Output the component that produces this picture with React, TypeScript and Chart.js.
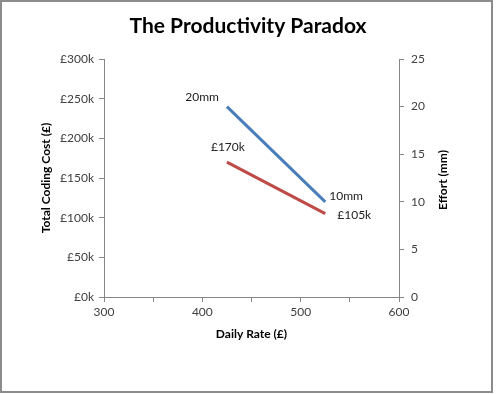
import React, { useEffect, useRef } from 'react';
import { Chart, registerables } from 'chart.js';
Chart.register(...registerables);

const chartTitle = 'The Productivity Paradox';
const xAxisTitle = 'Daily Rate (£)';
const yLeftTitle = 'Total Coding Cost (£)';
const yRightTitle = 'Effort (mm)';

const dailyRates = [425, 525];
const totalCodingCost = [170000, 105000];
const effortMm = [20, 10];
const costLabels = ['£170k', '£105k'];
const effortLabels = ['20mm', '10mm'];

const xMin = 300, xMax = 600, xStep = 50, xLabelStep = 100;
const costMin = 0, costMax = 300000, costStep = 50000;
const effortMin = 0, effortMax = 25, effortStep = 5;

const FONT = 'Lato, "Open Sans", sans-serif';
const AXIS = '#868686';
const TEXT = '#404040';

export default function App() {
  const ref = useRef<HTMLCanvasElement | null>(null);
  useEffect(() => {
    document.body.style.margin = '0';
    const canvas = ref.current!;
    const decor = {
      id: 'decor',
      beforeDraw(chart: any) {
        const { ctx } = chart;
        ctx.save();
        ctx.fillStyle = '#fff';
        ctx.fillRect(0, 0, chart.width, chart.height);
        ctx.strokeStyle = '#8c8c8c';
        ctx.lineWidth = 2;
        ctx.strokeRect(1, 1, 491, 391);
        ctx.restore();
      },
      afterDraw(chart: any) {
        const { ctx, chartArea } = chart;
        ctx.save();
        ctx.fillStyle = '#000';
        ctx.font = `bold 21px ${FONT}`;
        ctx.textAlign = 'center';
        ctx.textBaseline = 'middle';
        ctx.fillText(chartTitle, 248, 26);
        // right axis title, reading bottom to top
        ctx.font = `bold 12px ${FONT}`;
        ctx.fillStyle = '#000';
        ctx.translate(443, (chartArea.top + chartArea.bottom) / 2 + 2);
        ctx.rotate(-Math.PI / 2);
        ctx.fillText(yRightTitle, 0, 0);
        ctx.restore();
      },
      afterDatasetsDraw(chart: any) {
        const { ctx } = chart;
        const place = [
          [
            { dx: -8, dy: -9, align: 'right' },
            { dx: 4, dy: -6, align: 'left' },
          ],
          [
            { dx: 1, dy: -15, align: 'center' },
            { dx: 12, dy: 1, align: 'left' },
          ],
        ];
        const labels = [effortLabels, costLabels];
        ctx.save();
        ctx.font = `12px ${FONT}`;
        ctx.fillStyle = '#222';
        ctx.textBaseline = 'middle';
        [0, 1].forEach((di) => {
          const meta = chart.getDatasetMeta(di);
          meta.data.forEach((pt: any, i: number) => {
            const p = place[di][i];
            ctx.textAlign = p.align;
            ctx.fillText(labels[di][i], pt.x + p.dx, pt.y + p.dy);
          });
        });
        ctx.restore();
      },
    };

    const chart = new Chart(canvas, {
      type: 'scatter',
      data: {
        datasets: [
          {
            label: 'Effort',
            data: dailyRates.map((x, i) => ({ x, y: effortMm[i] })),
            yAxisID: 'yEffort',
            showLine: true,
            borderColor: '#4a7ebb',
            backgroundColor: '#4a7ebb',
            borderWidth: 3,
            pointRadius: 0,
          },
          {
            label: 'Cost',
            data: dailyRates.map((x, i) => ({ x, y: totalCodingCost[i] })),
            yAxisID: 'yCost',
            showLine: true,
            borderColor: '#be4b48',
            backgroundColor: '#be4b48',
            borderWidth: 3,
            pointRadius: 0,
          },
        ],
      },
      plugins: [decor],
      options: {
        animation: false,
        responsive: false,
        layout: { padding: { left: 32, right: 43, top: 59, bottom: 51 } },
        plugins: { legend: { display: false }, title: { display: false }, tooltip: { enabled: false } },
        scales: {
          x: {
            type: 'linear',
            min: xMin,
            max: xMax,
            afterFit: (s: any) => { s.height = 46; },
            ticks: {
              stepSize: xStep,
              padding: 3,
              color: TEXT,
              font: { family: FONT, size: 12 },
              callback: (v: any) => (Number(v) % xLabelStep === 0 ? String(v) : ''),
              maxRotation: 0,
              autoSkip: false,
            },
            grid: { drawOnChartArea: false, tickLength: 5, color: AXIS },
            border: { color: AXIS },
            title: {
              display: true,
              text: xAxisTitle,
              color: '#000',
              font: { family: FONT, size: 12, weight: 'bold' },
              padding: { top: 0, bottom: 2 },
            },
          },
          yCost: {
            type: 'linear',
            position: 'left',
            min: costMin,
            max: costMax,
            afterFit: (s: any) => { s.width = 72; },
            ticks: {
              stepSize: costStep,
              padding: 5,
              color: TEXT,
              font: { family: FONT, size: 12 },
              callback: (v: any) => '£' + Number(v) / 1000 + 'k',
            },
            grid: { drawOnChartArea: false, tickLength: 5, color: AXIS },
            border: { color: AXIS },
            title: {
              display: true,
              text: yLeftTitle,
              color: '#000',
              font: { family: FONT, size: 12, weight: 'bold' },
              padding: { top: 7, bottom: 0 },
            },
          },
          yEffort: {
            type: 'linear',
            position: 'right',
            min: effortMin,
            max: effortMax,
            afterFit: (s: any) => { s.width = 54; },
            ticks: {
              stepSize: effortStep,
              padding: 7,
              color: TEXT,
              font: { family: FONT, size: 12 },
            },
            grid: { drawOnChartArea: false, tickLength: 5, color: AXIS },
            border: { color: AXIS },
          },
        },
      },
    } as any);
    return () => chart.destroy();
  }, []);
  return <canvas ref={ref} width={496} height={394} style={{ display: 'block' }} />;
}
